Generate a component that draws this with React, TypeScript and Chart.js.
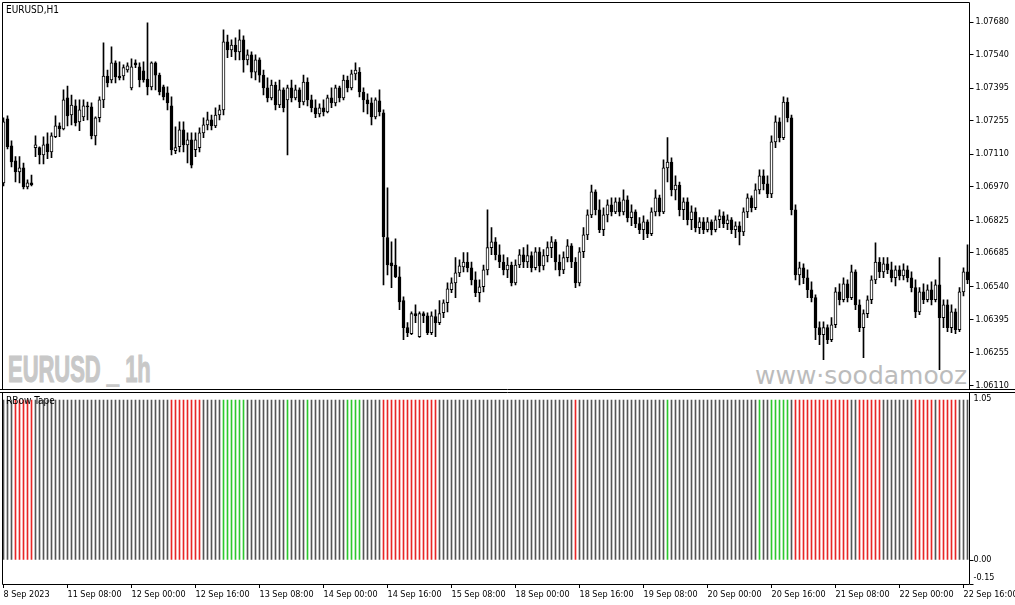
import React, { useEffect, useRef } from "react";
import { Chart, registerables } from "chart.js";

Chart.register(...registerables);

// ---------- data ----------
const PRICE_TICKS = [1.0768, 1.0754, 1.07395, 1.07255, 1.0711, 1.0697, 1.06825, 1.06685, 1.0654, 1.06395, 1.06255, 1.0611];
const PRICE_MIN = 1.06097;
const PRICE_MAX = 1.07762;

const TIME_LABELS = [
  "8 Sep 2023", "11 Sep 08:00", "12 Sep 00:00", "12 Sep 16:00", "13 Sep 08:00", "14 Sep 00:00",
  "14 Sep 16:00", "15 Sep 08:00", "18 Sep 00:00", "18 Sep 16:00", "19 Sep 08:00", "20 Sep 00:00",
  "20 Sep 16:00", "21 Sep 08:00", "22 Sep 00:00", "22 Sep 16:00",
];
const BARS_PER_TIME_LABEL = 16;

const TAPE_TICKS = [1.05, 0, -0.15];
const TAPE_LEVEL = 1;

const OPEN = [
  1.06986, 1.07262, 1.07146, 1.07081, 1.07033, 1.07051, 1.06969, 1.06986,
  1.07138, 1.07138, 1.07107, 1.07155, 1.07120, 1.07185, 1.07232, 1.07219,
  1.07353, 1.07279, 1.07318, 1.07249, 1.07271, 1.07318, 1.07314, 1.07189,
  1.07267, 1.07344, 1.07447, 1.07430, 1.07504, 1.07447, 1.07447, 1.07473,
  1.07396, 1.07504, 1.07487, 1.07469, 1.07434, 1.07400, 1.07504, 1.07451,
  1.07400, 1.07374, 1.07318, 1.07125, 1.07142, 1.07215, 1.07150, 1.07172,
  1.07129, 1.07138, 1.07202, 1.07236, 1.07258, 1.07232, 1.07279, 1.07301,
  1.07594, 1.07560, 1.07581, 1.07551, 1.07603, 1.07517, 1.07538, 1.07464,
  1.07517, 1.07451, 1.07396, 1.07353, 1.07408, 1.07322, 1.07387, 1.07344,
  1.07396, 1.07353, 1.07387, 1.07335, 1.07421, 1.07344, 1.07310, 1.07284,
  1.07310, 1.07292, 1.07353, 1.07331, 1.07396, 1.07353, 1.07430, 1.07396,
  1.07456, 1.07464, 1.07378, 1.07344, 1.07331, 1.07271, 1.07340, 1.07288,
  1.06750, 1.06641, 1.06632, 1.06581, 1.06478, 1.06362, 1.06336, 1.06422,
  1.06323, 1.06422, 1.06413, 1.06340, 1.06409, 1.06383, 1.06426, 1.06469,
  1.06525, 1.06555, 1.06598, 1.06624, 1.06645, 1.06620, 1.06568, 1.06512,
  1.06538, 1.06611, 1.06707, 1.06732, 1.06676, 1.06645, 1.06611, 1.06632,
  1.06555, 1.06632, 1.06676, 1.06645, 1.06672, 1.06620, 1.06689, 1.06628,
  1.06672, 1.06707, 1.06732, 1.06645, 1.06611, 1.06664, 1.06715, 1.06645,
  1.06555, 1.06689, 1.06762, 1.06848, 1.06947, 1.06870, 1.06784, 1.06848,
  1.06891, 1.06861, 1.06904, 1.06861, 1.06913, 1.06836, 1.06861, 1.06810,
  1.06784, 1.06818, 1.06767, 1.06861, 1.06922, 1.06861, 1.07051, 1.07076,
  1.06956, 1.06977, 1.06870, 1.06904, 1.06827, 1.06861, 1.06793, 1.06818,
  1.06784, 1.06818, 1.06784, 1.06827, 1.06844, 1.06810, 1.06827, 1.06784,
  1.06801, 1.06775, 1.06861, 1.06922, 1.06879, 1.06956, 1.07016, 1.06982,
  1.06939, 1.07163, 1.07249, 1.07181, 1.07335, 1.07267, 1.06870, 1.06589,
  1.06620, 1.06577, 1.06525, 1.06491, 1.06362, 1.06331, 1.06362, 1.06310,
  1.06374, 1.06516, 1.06482, 1.06551, 1.06491, 1.06602, 1.06460, 1.06362,
  1.06422, 1.06482, 1.06568, 1.06645, 1.06602, 1.06637, 1.06611, 1.06577,
  1.06611, 1.06585, 1.06611, 1.06577, 1.06534, 1.06430, 1.06516, 1.06482,
  1.06525, 1.06482, 1.06546, 1.06405, 1.06460, 1.06362, 1.06430, 1.06353,
  1.06516, 1.06602,
];

const HIGH = [
  1.07267, 1.07275, 1.07168, 1.07099, 1.07099, 1.07072, 1.06999, 1.07020,
  1.07189, 1.07142, 1.07185, 1.07202, 1.07202, 1.07275, 1.07245, 1.07387,
  1.07404, 1.07365, 1.07344, 1.07344, 1.07344, 1.07335, 1.07331, 1.07271,
  1.07357, 1.07590, 1.07473, 1.07573, 1.07513, 1.07508, 1.07495, 1.07504,
  1.07521, 1.07517, 1.07504, 1.07508, 1.07676, 1.07508, 1.07508, 1.07460,
  1.07408, 1.07400, 1.07357, 1.07228, 1.07249, 1.07249, 1.07202, 1.07202,
  1.07202, 1.07224, 1.07267, 1.07292, 1.07279, 1.07310, 1.07322, 1.07646,
  1.07624, 1.07603, 1.07612, 1.07646, 1.07620, 1.07560, 1.07551, 1.07538,
  1.07526, 1.07473, 1.07439, 1.07430, 1.07421, 1.07430, 1.07396, 1.07408,
  1.07430, 1.07408, 1.07396, 1.07451, 1.07439, 1.07365, 1.07344, 1.07327,
  1.07344, 1.07365, 1.07396, 1.07408, 1.07404, 1.07451, 1.07447, 1.07473,
  1.07504, 1.07483, 1.07396, 1.07370, 1.07353, 1.07353, 1.07387, 1.07301,
  1.06965, 1.06732, 1.06745, 1.06624, 1.06495, 1.06383, 1.06430, 1.06460,
  1.06430, 1.06430, 1.06426, 1.06430, 1.06439, 1.06478, 1.06482, 1.06555,
  1.06577, 1.06664, 1.06654, 1.06685, 1.06685, 1.06645, 1.06602, 1.06568,
  1.06632, 1.06870, 1.06793, 1.06750, 1.06719, 1.06676, 1.06664, 1.06645,
  1.06654, 1.06698, 1.06707, 1.06719, 1.06689, 1.06707, 1.06707, 1.06698,
  1.06732, 1.06754, 1.06741, 1.06676, 1.06689, 1.06741, 1.06724, 1.06664,
  1.06707, 1.06793, 1.06870, 1.06977, 1.06956, 1.06913, 1.06879, 1.06913,
  1.06922, 1.06922, 1.06922, 1.06956, 1.06930, 1.06891, 1.06870, 1.06836,
  1.06844, 1.06827, 1.06879, 1.06956, 1.06934, 1.07085, 1.07181, 1.07094,
  1.07016, 1.06990, 1.06922, 1.06922, 1.06887, 1.06879, 1.06836, 1.06836,
  1.06836, 1.06827, 1.06844, 1.06870, 1.06861, 1.06848, 1.06836, 1.06818,
  1.06818, 1.06879, 1.06939, 1.06930, 1.06982, 1.07042, 1.07042, 1.07016,
  1.07189, 1.07275, 1.07267, 1.07357, 1.07353, 1.07279, 1.06891, 1.06645,
  1.06637, 1.06611, 1.06559, 1.06503, 1.06387, 1.06387, 1.06374, 1.06405,
  1.06534, 1.06551, 1.06577, 1.06568, 1.06632, 1.06611, 1.06482, 1.06439,
  1.06499, 1.06585, 1.06728, 1.06664, 1.06664, 1.06664, 1.06645, 1.06628,
  1.06628, 1.06637, 1.06628, 1.06602, 1.06568, 1.06534, 1.06551, 1.06546,
  1.06559, 1.06568, 1.06664, 1.06482, 1.06482, 1.06460, 1.06443, 1.06534,
  1.06620, 1.06719,
];

const LOW = [
  1.06973, 1.07133, 1.07055, 1.06990, 1.06986, 1.06960, 1.06960, 1.06973,
  1.07099, 1.07068, 1.07068, 1.07090, 1.07095, 1.07181, 1.07185, 1.07215,
  1.07232, 1.07236, 1.07232, 1.07211, 1.07254, 1.07258, 1.07176, 1.07150,
  1.07249, 1.07310, 1.07400, 1.07417, 1.07417, 1.07430, 1.07430, 1.07464,
  1.07387, 1.07483, 1.07400, 1.07421, 1.07365, 1.07387, 1.07387, 1.07365,
  1.07344, 1.07301, 1.07107, 1.07112, 1.07120, 1.07120, 1.07072, 1.07051,
  1.07099, 1.07120, 1.07181, 1.07215, 1.07215, 1.07224, 1.07258, 1.07279,
  1.07526, 1.07530, 1.07517, 1.07517, 1.07464, 1.07495, 1.07439, 1.07430,
  1.07421, 1.07365, 1.07335, 1.07344, 1.07301, 1.07310, 1.07292, 1.07107,
  1.07335, 1.07344, 1.07310, 1.07322, 1.07318, 1.07292, 1.07267, 1.07271,
  1.07275, 1.07288, 1.07310, 1.07318, 1.07335, 1.07344, 1.07378, 1.07387,
  1.07430, 1.07357, 1.07292, 1.07284, 1.07236, 1.07262, 1.07275, 1.06546,
  1.06589, 1.06534, 1.06577, 1.06439, 1.06310, 1.06323, 1.06331, 1.06383,
  1.06319, 1.06383, 1.06331, 1.06331, 1.06323, 1.06374, 1.06405, 1.06430,
  1.06512, 1.06491, 1.06581, 1.06602, 1.06602, 1.06546, 1.06495, 1.06473,
  1.06516, 1.06589, 1.06676, 1.06654, 1.06620, 1.06589, 1.06577, 1.06542,
  1.06546, 1.06620, 1.06620, 1.06620, 1.06602, 1.06611, 1.06602, 1.06611,
  1.06645, 1.06664, 1.06611, 1.06585, 1.06594, 1.06645, 1.06620, 1.06534,
  1.06542, 1.06664, 1.06741, 1.06836, 1.06848, 1.06771, 1.06758, 1.06818,
  1.06844, 1.06853, 1.06844, 1.06848, 1.06818, 1.06801, 1.06793, 1.06767,
  1.06741, 1.06750, 1.06758, 1.06844, 1.06844, 1.06853, 1.06990, 1.06930,
  1.06913, 1.06844, 1.06827, 1.06805, 1.06784, 1.06775, 1.06767, 1.06767,
  1.06775, 1.06762, 1.06775, 1.06793, 1.06793, 1.06784, 1.06767, 1.06750,
  1.06719, 1.06758, 1.06836, 1.06861, 1.06870, 1.06939, 1.06956, 1.06922,
  1.06922, 1.07138, 1.07163, 1.07172, 1.07249, 1.06848, 1.06568, 1.06546,
  1.06551, 1.06491, 1.06473, 1.06310, 1.06288, 1.06223, 1.06293, 1.06301,
  1.06362, 1.06460, 1.06473, 1.06473, 1.06482, 1.06439, 1.06344, 1.06232,
  1.06405, 1.06465, 1.06551, 1.06577, 1.06577, 1.06594, 1.06559, 1.06542,
  1.06568, 1.06568, 1.06559, 1.06516, 1.06405, 1.06418, 1.06465, 1.06473,
  1.06460, 1.06473, 1.06180, 1.06362, 1.06344, 1.06340, 1.06336, 1.06344,
  1.06499, 1.06551,
];

const CLOSE = [
  1.07249, 1.07142, 1.07076, 1.07033, 1.07051, 1.06969, 1.06986, 1.06977,
  1.07150, 1.07107, 1.07150, 1.07120, 1.07189, 1.07232, 1.07219, 1.07344,
  1.07275, 1.07322, 1.07245, 1.07301, 1.07318, 1.07314, 1.07189, 1.07267,
  1.07344, 1.07447, 1.07417, 1.07504, 1.07443, 1.07439, 1.07483, 1.07491,
  1.07487, 1.07495, 1.07430, 1.07430, 1.07400, 1.07504, 1.07451, 1.07378,
  1.07357, 1.07331, 1.07129, 1.07138, 1.07215, 1.07150, 1.07172, 1.07063,
  1.07172, 1.07202, 1.07236, 1.07258, 1.07232, 1.07279, 1.07301, 1.07594,
  1.07560, 1.07581, 1.07551, 1.07603, 1.07517, 1.07538, 1.07464, 1.07517,
  1.07451, 1.07396, 1.07353, 1.07408, 1.07322, 1.07387, 1.07310, 1.07396,
  1.07353, 1.07387, 1.07335, 1.07421, 1.07344, 1.07310, 1.07284, 1.07310,
  1.07292, 1.07353, 1.07331, 1.07396, 1.07353, 1.07430, 1.07396, 1.07456,
  1.07473, 1.07378, 1.07344, 1.07327, 1.07271, 1.07344, 1.07292, 1.06754,
  1.06632, 1.06628, 1.06581, 1.06473, 1.06362, 1.06340, 1.06422, 1.06413,
  1.06422, 1.06413, 1.06340, 1.06413, 1.06383, 1.06422, 1.06469, 1.06529,
  1.06555, 1.06598, 1.06628, 1.06645, 1.06620, 1.06568, 1.06512, 1.06538,
  1.06611, 1.06707, 1.06732, 1.06676, 1.06645, 1.06611, 1.06632, 1.06555,
  1.06632, 1.06676, 1.06645, 1.06672, 1.06620, 1.06689, 1.06628, 1.06672,
  1.06707, 1.06732, 1.06645, 1.06611, 1.06664, 1.06715, 1.06645, 1.06555,
  1.06689, 1.06762, 1.06848, 1.06947, 1.06870, 1.06784, 1.06848, 1.06891,
  1.06861, 1.06904, 1.06861, 1.06913, 1.06836, 1.06861, 1.06810, 1.06784,
  1.06818, 1.06767, 1.06861, 1.06922, 1.06861, 1.07051, 1.07076, 1.06956,
  1.06977, 1.06870, 1.06904, 1.06827, 1.06861, 1.06793, 1.06818, 1.06784,
  1.06818, 1.06784, 1.06827, 1.06844, 1.06810, 1.06827, 1.06784, 1.06801,
  1.06775, 1.06861, 1.06922, 1.06879, 1.06956, 1.07016, 1.06982, 1.06939,
  1.07163, 1.07249, 1.07181, 1.07335, 1.07267, 1.06870, 1.06589, 1.06620,
  1.06577, 1.06525, 1.06491, 1.06362, 1.06331, 1.06362, 1.06310, 1.06374,
  1.06516, 1.06482, 1.06551, 1.06491, 1.06602, 1.06460, 1.06362, 1.06422,
  1.06482, 1.06568, 1.06645, 1.06602, 1.06637, 1.06611, 1.06577, 1.06611,
  1.06585, 1.06611, 1.06577, 1.06534, 1.06430, 1.06516, 1.06482, 1.06525,
  1.06482, 1.06546, 1.06405, 1.06460, 1.06362, 1.06430, 1.06353, 1.06516,
  1.06602, 1.06568,
];

// RBow Tape state per bar: -1 = red, 0 = grey, 1 = green
const TAPE_STATE = [
  0, 0, 0, -1, -1, -1, -1, -1, 0, 0, 0, 0, 0, 0, 0, 0,
  0, 0, 0, 0, 0, 0, 0, 0, 0, 0, 0, 0, 0, 0, 0, 0,
  0, 0, 0, 0, 0, 0, 0, 0, 0, 0, -1, -1, -1, -1, -1, -1,
  -1, -1, 0, 0, 0, 0, 0, 1, 1, 1, 1, 1, 1, 0, 0, 0,
  0, 0, 0, 0, 0, 0, 0, 1, 0, 0, 0, 0, 1, 0, 0, 0,
  0, 0, 0, 0, 0, 0, 1, 1, 1, 1, 0, 0, 0, 0, 0, -1,
  -1, -1, -1, -1, -1, -1, -1, -1, -1, -1, -1, -1, -1, 0, 0, 0,
  0, 0, 0, 0, 0, 0, 0, 0, 0, 0, 0, 0, 0, 0, 0, 0,
  0, 0, 0, 0, 0, 0, 0, 0, 0, 0, 0, 0, 0, 0, 0, -1,
  0, 0, 0, 0, 0, 0, 0, 0, 0, 0, 0, 0, 0, 0, 0, 0,
  0, 0, 0, 0, 0, 0, 1, 0, 0, 0, 0, 0, 0, 0, 0, 0,
  0, 0, 0, 0, 0, 0, 0, 0, 0, 0, 0, 0, 0, 1, 0, 0,
  1, 1, 1, 1, 1, 0, -1, -1, -1, -1, -1, -1, -1, -1, -1, -1,
  -1, -1, -1, -1, 0, 0, -1, -1, -1, -1, -1, -1, 0, 0, 0, 0,
  0, 0, 0, 0, -1, -1, -1, -1, -1, 0, -1, -1, -1, -1, -1, 0,
  0, 0,
];

// ---------- styles ----------
const FONT_FAMILY = "'DejaVu Sans Condensed', 'DejaVu Sans', sans-serif";
const FONT_SIZE = 9;
const TAPE_RED = "#e82626";
const TAPE_GREEN = "#2ec82e";
const TAPE_GREY = "#555555";
const AXIS_WIDTH = 45.5;

const tapeColor = (s: number) => (s < 0 ? TAPE_RED : s > 0 ? TAPE_GREEN : TAPE_GREY);

const frameMain = {
  id: "frameMain",
  afterDraw(chart: any) {
    const { ctx, chartArea: a, width } = chart;
    ctx.save();
    ctx.strokeStyle = "#000";
    ctx.lineWidth = 1;
    ctx.beginPath();
    const top = a.top - 0.5;
    const left = a.left + 1;
    const bottom = a.bottom + 0.5;
    ctx.moveTo(left, top);
    ctx.lineTo(a.right, top);
    ctx.moveTo(left, top);
    ctx.lineTo(left, bottom);
    ctx.moveTo(a.right, top);
    ctx.lineTo(a.right, bottom);
    ctx.moveTo(0, bottom);
    ctx.lineTo(width, bottom);
    ctx.stroke();
    ctx.restore();
  },
};

const frameTape = {
  id: "frameTape",
  afterDraw(chart: any) {
    const { ctx, chartArea: a, width } = chart;
    ctx.save();
    ctx.strokeStyle = "#000";
    ctx.lineWidth = 1;
    ctx.beginPath();
    const top = a.top + 0.5;
    const left = a.left + 1;
    const bottom = a.bottom + 0.5;
    ctx.moveTo(0, top);
    ctx.lineTo(width, top);
    ctx.moveTo(left, top);
    ctx.lineTo(left, bottom);
    ctx.moveTo(a.right, top);
    ctx.lineTo(a.right, bottom);
    ctx.moveTo(left, bottom);
    ctx.lineTo(a.right, bottom);
    ctx.stroke();
    // y labels of the tape panel, kept inside the panel like the terminal does
    const y = chart.scales.y;
    ctx.fillStyle = "#000";
    ctx.font = `${FONT_SIZE}px ${FONT_FAMILY}`;
    ctx.textAlign = "left";
    ctx.textBaseline = "middle";
    TAPE_TICKS.forEach((v) => {
      const py = Math.min(Math.max(y.getPixelForValue(v), a.top + 7), a.bottom - 6);
      ctx.fillText(v.toFixed(2), a.right + 4, py);
    });
    ctx.restore();
  },
};

export default function App() {
  const refMain = useRef<HTMLCanvasElement>(null);
  const refTape = useRef<HTMLCanvasElement>(null);

  useEffect(() => {
    const labels = OPEN.map((_, i) => String(i));
    const bodies = OPEN.map((o, i) => [o, CLOSE[i]]);
    const wicks = LOW.map((l, i) => [l, HIGH[i]]);
    const bodyColors = OPEN.map((o, i) => (CLOSE[i] >= o ? "#ffffff" : "#000000"));
    const font = { family: FONT_FAMILY, size: FONT_SIZE };

    const main = new Chart(refMain.current as HTMLCanvasElement, {
      type: "bar",
      data: {
        labels,
        datasets: [
          {
            data: wicks as any,
            backgroundColor: "#000",
            borderWidth: 0,
            barThickness: 1,
            grouped: false,
            order: 2,
          } as any,
          {
            data: bodies as any,
            backgroundColor: bodyColors,
            borderColor: "#000",
            borderWidth: 1,
            borderSkipped: false,
            barThickness: 3,
            minBarLength: 1,
            grouped: false,
            order: 1,
          } as any,
        ],
      },
      options: {
        responsive: false,
        animation: false,
        events: [],
        layout: { padding: { left: 1.5, right: 0, top: 3, bottom: 2 } },
        plugins: { legend: { display: false }, tooltip: { enabled: false } },
        scales: {
          x: { display: false },
          y: {
            position: "right",
            min: PRICE_MIN,
            max: PRICE_MAX,
            afterBuildTicks: (s: any) => {
              s.ticks = PRICE_TICKS.map((v) => ({ value: v }));
            },
            afterFit: (s: any) => {
              s.width = AXIS_WIDTH;
              s.paddingTop = 0;
              s.paddingBottom = 0;
            },
            grid: { drawOnChartArea: false, drawTicks: true, tickLength: 4, color: "#000", lineWidth: 1 },
            border: { display: false },
            ticks: {
              autoSkip: false,
              color: "#000",
              padding: 2,
              font,
              callback: (v: any) => Number(v).toFixed(5),
            },
          },
        },
      } as any,
      plugins: [frameMain],
    });

    const tape = new Chart(refTape.current as HTMLCanvasElement, {
      type: "bar",
      data: {
        labels,
        datasets: [
          {
            data: TAPE_STATE.map(() => TAPE_LEVEL),
            backgroundColor: TAPE_STATE.map(tapeColor),
            borderWidth: 0,
            barThickness: 1,
          } as any,
        ],
      },
      options: {
        responsive: false,
        animation: false,
        events: [],
        layout: { padding: { left: 1.5, right: 0, top: 2, bottom: 0 } },
        plugins: { legend: { display: false }, tooltip: { enabled: false } },
        scales: {
          x: {
            afterBuildTicks: (s: any) => {
              s.ticks = s.ticks.filter((t: any) => t.value % BARS_PER_TIME_LABEL === 0);
            },
            afterFit: (s: any) => {
              s.height = 21;
              s.paddingLeft = 0;
              s.paddingRight = 0;
            },
            grid: { drawOnChartArea: false, offset: false, tickLength: 4, color: "#000", lineWidth: 1 },
            border: { display: false },
            ticks: {
              autoSkip: false,
              maxRotation: 0,
              minRotation: 0,
              align: "start",
              padding: 1,
              color: "#000",
              font,
              callback: (v: any) => TIME_LABELS[Number(v) / BARS_PER_TIME_LABEL] ?? "",
            },
          },
          y: {
            position: "right",
            min: -0.15,
            max: 1.05,
            afterBuildTicks: (s: any) => {
              s.ticks = TAPE_TICKS.map((v) => ({ value: v }));
            },
            afterFit: (s: any) => {
              s.width = AXIS_WIDTH;
              s.paddingTop = 0;
              s.paddingBottom = 0;
            },
            grid: { drawOnChartArea: false, tickLength: 4, color: "#000", lineWidth: 1 },
            border: { display: false },
            ticks: { display: false },
          },
        },
      } as any,
      plugins: [frameTape],
    });

    return () => {
      main.destroy();
      tape.destroy();
    };
  }, []);

  const small: React.CSSProperties = {
    position: "absolute",
    fontFamily: FONT_FAMILY,
    fontSize: 10,
    lineHeight: "10px",
    color: "#000",
    whiteSpace: "nowrap",
  };

  return (
    <div
      style={{
        position: "fixed",
        left: 0,
        top: 0,
        width: 1015,
        height: 605,
        background: "#ffffff",
        overflow: "hidden",
      }}
    >
      <div
        style={{
          position: "absolute",
          left: 8,
          top: 352,
          fontFamily: "'Liberation Sans', sans-serif",
          fontWeight: "bold",
          fontSize: 36,
          lineHeight: "36px",
          color: "#c8c8c8",
          whiteSpace: "nowrap",
          transform: "scaleX(0.61)",
          transformOrigin: "0 0",
          WebkitTextStroke: "1.2px #c8c8c8",
        }}
      >
        EURUSD _ 1h
      </div>
      <div
        style={{
          position: "absolute",
          left: 755,
          top: 350,
          width: 214,
          height: 39,
          overflow: "hidden",
        }}
      >
        <div
          style={{
            position: "absolute",
            left: 0,
            top: 13,
            fontFamily: "'DejaVu Sans', sans-serif",
            fontSize: 25,
            lineHeight: "25px",
            color: "#bcbcbc",
            whiteSpace: "nowrap",
          }}
        >
          www·soodamooz
        </div>
      </div>
      <canvas
        ref={refMain}
        width={1015}
        height={391}
        style={{ position: "absolute", left: 0, top: 0, width: 1015, height: 391, display: "block" }}
      />
      <canvas
        ref={refTape}
        width={1015}
        height={215}
        style={{ position: "absolute", left: 0, top: 390, width: 1015, height: 215, display: "block" }}
      />
      <div style={{ ...small, left: 6, top: 5 }}>EURUSD,H1</div>
      <div style={{ ...small, left: 6, top: 396 }}>RBow Tape</div>
    </div>
  );
}
